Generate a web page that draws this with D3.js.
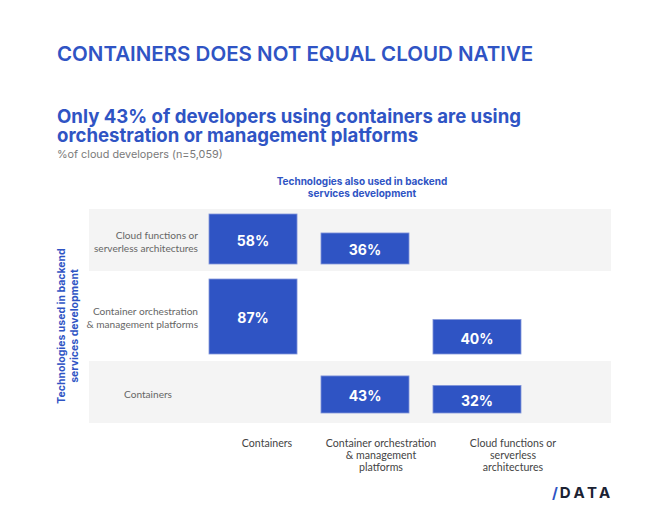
<!DOCTYPE html>
<html>
<head>
<meta charset="utf-8">
<script src="https://cdn.jsdelivr.net/npm/d3@7"></script>
<style>
  body { margin: 0; background: #fff; }
  svg { display: block; font-family: "Inter", "Lato", sans-serif; }
  .soft { font-family: "Lato", sans-serif; }
</style>
</head>
<body>
<div id="chart"></div>
<script>
"use strict"

// data
const rowKeys = ["cloudFn", "orchestration", "containers"];
const colKeys = ["containers", "orchestration", "cloudFn"];
const rowLabels = [["Cloud functions or", "serverless architectures"],
                   ["Container orchestration", "& management platforms"],
                   ["Containers"]];
const colLabels = [["Containers"],
                   ["Container orchestration", "& management", "platforms"],
                   ["Cloud functions or", "serverless", "architectures"]];
// rows x columns, null = no bar
const shares = [[58, 36, null],
                [87, null, 40],
                [null, 43, 32]];

const title = "CONTAINERS DOES NOT EQUAL CLOUD NATIVE";
const subtitle = ["Only 43% of developers using containers are using",
                  "orchestration or management platforms"];
const note = "%of cloud developers (n=5,059)";
const colTitle = ["Technologies also used in backend", "services development"];
const rowTitle = ["Technologies used in backend", "services development"];

// layout
const W = 660, H = 527;
const blue = "#2f54c4";
const band = {left: 89, right: 611};
const rowEdges = [209, 271, 361, 423];
const barPad = [7, 7, 10];
const colLabelShift = [14, 16, 36];

const svg = d3.select("#chart").append("svg")
    .attr("width", W)
    .attr("height", H);

// scales
const x = d3.scaleBand()
    .domain(colKeys)
    .range([209, 521])
    .paddingInner(0.214);
const h = d3.scaleLinear()
    .domain([0, 100])
    .range([0, 86.2]);

// titles
svg.append("text")
    .attr("x", 57).attr("y", 61)
    .attr("fill", blue)
    .style("font-size", "20.5px").style("font-weight", 600)
    .text(title);
svg.append("g").selectAll("text")
  .data(subtitle)
  .enter().append("text")
    .attr("x", 57)
    .attr("y", function(d, i) { return 122.5 + i * 19; })
    .attr("fill", blue)
    .style("font-size", "18.6px").style("font-weight", 700)
    .text(function(d) { return d; });
svg.append("text")
    .attr("x", 57).attr("y", 158)
    .attr("fill", "#7a7a7a")
    .style("font-size", "10.8px")
    .text(note);

// column header
svg.append("g").selectAll("text")
  .data(colTitle)
  .enter().append("text")
    .attr("x", 362)
    .attr("y", function(d, i) { return 185 + i * 11.5; })
    .attr("text-anchor", "middle")
    .attr("fill", blue)
    .style("font-size", "10px").style("font-weight", 700)
    .text(function(d) { return d; });

// row title (rotated)
svg.append("g")
    .attr("transform", "translate(65,326) rotate(-90)")
  .selectAll("text")
  .data(rowTitle)
  .enter().append("text")
    .attr("x", 0)
    .attr("y", function(d, i) { return i * 12.5; })
    .attr("text-anchor", "middle")
    .attr("fill", blue)
    .style("font-size", "10.5px").style("font-weight", 700)
    .text(function(d) { return d; });

// rows
const rows = svg.selectAll(".row")
  .data(rowKeys)
  .enter().append("g")
    .attr("class", "row");

rows.append("rect")
    .attr("x", band.left)
    .attr("y", function(d, i) { return rowEdges[i]; })
    .attr("width", band.right - band.left)
    .attr("height", function(d, i) { return rowEdges[i + 1] - rowEdges[i]; })
    .attr("fill", function(d, i) { return i % 2 == 0 ? "#f4f4f4" : "#ffffff"; });

// row labels
rows.each(function(d, i) {
  const lines = rowLabels[i];
  const mid = (rowEdges[i] + rowEdges[i + 1]) / 2 + 2;
  const single = lines.length == 1;
  d3.select(this).selectAll(".row-label")
    .data(lines)
    .enter().append("text")
      .attr("class", "row-label soft")
      .attr("x", single ? 148 : 198)
      .attr("y", function(t, j) { return mid + (j - (lines.length - 1) / 2) * 12.5; })
      .attr("dy", "0.35em")
      .attr("text-anchor", single ? "middle" : "end")
      .attr("fill", "#666")
      .style("font-size", "10.1px")
      .text(function(t) { return t; });
});

// bars
const cells = [];
shares.forEach(function(r, i) {
  r.forEach(function(v, j) {
    if (v != null) cells.push({row: i, col: colKeys[j], value: v});
  });
});
function barBottom(c) { return rowEdges[c.row + 1] - barPad[c.row]; }

const bars = svg.selectAll(".bar")
  .data(cells)
  .enter().append("g")
    .attr("class", "bar");
bars.append("rect")
    .attr("x", function(c) { return x(c.col); })
    .attr("y", function(c) { return barBottom(c) - h(c.value); })
    .attr("width", x.bandwidth())
    .attr("height", function(c) { return h(c.value); })
    .attr("fill", blue)
    .attr("stroke", "#8396da")
    .attr("stroke-width", 0.8);
bars.append("text")
    .attr("x", function(c) { return x(c.col) + x.bandwidth() / 2; })
    .attr("y", function(c) { return barBottom(c) - h(c.value) / 2 + 2; })
    .attr("dy", "0.35em")
    .attr("text-anchor", "middle")
    .attr("fill", "#fff")
    .style("font-size", "14px").style("font-weight", 700)
    .text(function(c) { return c.value + "%"; });

// column labels
const cols = svg.selectAll(".col-label")
  .data(colKeys)
  .enter().append("g")
    .attr("class", "col-label")
    .attr("transform", function(d, j) {
      return "translate(" + (x(d) + x.bandwidth() / 2 + colLabelShift[j]) + ",0)";
    });
cols.each(function(d, j) {
  d3.select(this).selectAll("text")
    .data(colLabels[j])
    .enter().append("text")
      .attr("class", "soft")
      .attr("x", 0)
      .attr("y", function(t, k) { return 443 + k * 12.2; })
      .attr("dy", "0.35em")
      .attr("text-anchor", "middle")
      .attr("fill", "#444")
      .style("font-size", "10.6px")
      .text(function(t) { return t; });
});

// logo
const logo = svg.append("text")
    .attr("x", 552).attr("y", 497.5)
    .style("font-size", "15px").style("font-weight", 700);
logo.append("tspan").attr("fill", "#2f54c4").text("/");
logo.append("tspan").attr("fill", "#1b2233").attr("dx", 2)
    .style("letter-spacing", "3.5px").text("DATA");
</script>
</body>
</html>
